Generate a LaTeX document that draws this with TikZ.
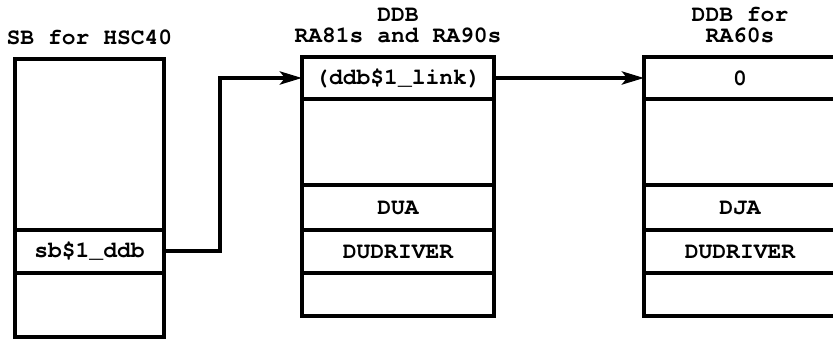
\documentclass[tikz,border=0pt]{standalone}
\usepackage{fontspec}
\setmonofont{texgyrecursor}[Extension=.otf, UprightFont=*-regular, BoldFont=*-bold]
\usetikzlibrary{positioning,arrows.meta}

\begin{document}
\begin{tikzpicture}[x=1pt, y=1pt,
    every node/.style={font=\ttfamily\bfseries\fontsize{23}{21}\selectfont},
    field/.style={draw, line width=4pt, outer sep=0pt, inner sep=0pt, minimum height=#1},
    sb/.style={field=#1, minimum width=149pt},
    ddb/.style={field=#1, minimum width=192pt},
    title/.style={align=center, inner sep=0pt},
    >={Stealth[length=22pt,width=13pt,inset=5pt]}]

    \useasboundingbox (0,0) rectangle (833,-339);

    \node[sb=171pt, anchor=north west] (S1) at (15,-59) {};
    \node[sb=43pt, below=0pt of S1] (S2) {sb\$1\_ddb};
    \node[sb=64pt, below=0pt of S2] (S3) {};

    \node[ddb=42pt, anchor=north west] (A1) at (302,-57) {(ddb\$1\_link)};
    \node[ddb=86pt, below=0pt of A1] (A2) {};
    \node[ddb=45pt, below=0pt of A2] (A3) {DUA};
    \node[ddb=43pt, below=0pt of A3] (A4) {DUDRIVER};
    \node[ddb=43pt, below=0pt of A4] (A5) {};

    \node[ddb=42pt, anchor=north west] (B1) at (644,-57) {0};
    \node[ddb=86pt, below=0pt of B1] (B2) {};
    \node[ddb=45pt, below=0pt of B2] (B3) {DJA};
    \node[ddb=43pt, below=0pt of B3] (B4) {DUDRIVER};
    \node[ddb=43pt, below=0pt of B4] (B5) {};

    \node[title, above=14pt of S1] (TS) {SB for HSC40};
    \node[title, above=14pt of A1] (TA) {DDB\\RA81s and RA90s};
    \node[title, above=14pt of B1] (TB) {DDB for\\RA60s};

    \draw[->, line width=4pt] (S2.east) -- ++(56,0) |- (A1.west);
    \draw[->, line width=4pt] (A1.east) -- (B1.west);
\end{tikzpicture}
\end{document}
